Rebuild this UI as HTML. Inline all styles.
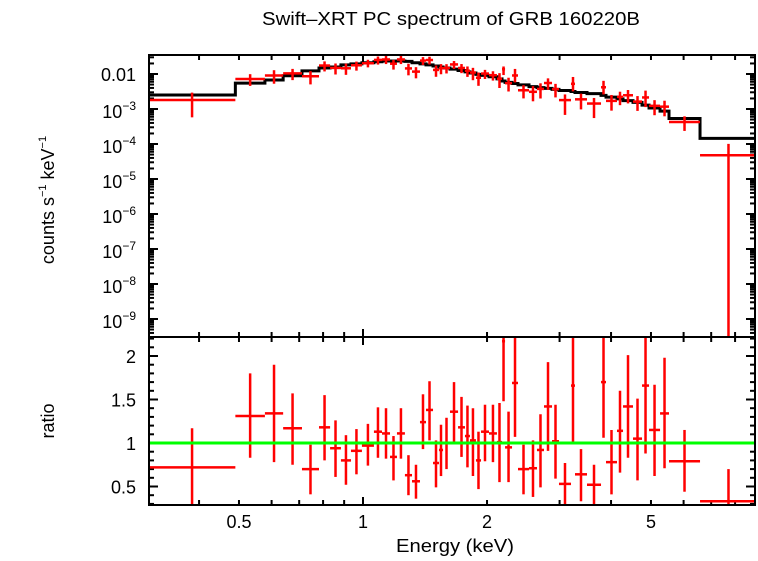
<!DOCTYPE html>
<html><head><meta charset="utf-8"><style>
html,body{margin:0;padding:0;background:#fff}
svg text{font-family:"Liberation Sans",Arial,sans-serif;fill:#000}
</style></head><body>
<svg id="chart" width="758" height="556" viewBox="0 0 758 556" xmlns="http://www.w3.org/2000/svg">
<defs>
<clipPath id="clipTop"><rect x="149" y="55" width="606" height="282"/></clipPath>
<clipPath id="clipBot"><rect x="149" y="337" width="606" height="168"/></clipPath>
</defs>
<text x="451" y="25" font-size="18" text-anchor="middle" textLength="378" lengthAdjust="spacingAndGlyphs">Swift–XRT PC spectrum of GRB 160220B</text>
<text transform="translate(54,200) rotate(-90)" font-size="18" text-anchor="middle">counts s<tspan font-size="11" dy="-8">−1</tspan><tspan dy="8"> keV</tspan><tspan font-size="11" dy="-8">−1</tspan></text>
<text transform="translate(54,421) rotate(-90)" font-size="18" text-anchor="middle">ratio</text>
<text x="455" y="552" font-size="18" text-anchor="middle" textLength="118" lengthAdjust="spacingAndGlyphs">Energy (keV)</text>
<g id="ticks"></g>
<g id="labels"></g>
<g id="topMarks" clip-path="url(#clipTop)"></g>
<g id="botMarks" clip-path="url(#clipBot)"></g>
<rect x="149" y="55" width="606" height="282" fill="none" stroke="#000" stroke-width="2"/>
<rect x="149" y="337" width="606" height="168" fill="none" stroke="#000" stroke-width="2"/>
</svg>
<script>
const binEdges=[0.302,0.49,0.578,0.640,0.711,0.782,0.832,0.884,0.935,0.994,1.063,1.112,1.163,1.209,1.264,1.315,1.375,1.422,1.479,1.529,1.564,1.626,1.701,1.768,1.818,1.880,1.934,2.022,2.114,2.175,2.212,2.300,2.378,2.529,2.644,2.750,2.876,2.990,3.198,3.270,3.497,3.782,3.889,4.135,4.277,4.522,4.756,4.946,5.260,5.530,6.577,9.04];
const modelLog=[-2.60,-2.26,-2.17,-2.05,-1.91,-1.83,-1.80,-1.74,-1.71,-1.68,-1.65,-1.63,-1.63,-1.63,-1.64,-1.68,-1.71,-1.74,-1.77,-1.80,-1.83,-1.86,-1.90,-1.94,-1.97,-2.01,-2.04,-2.08,-2.14,-2.20,-2.24,-2.27,-2.31,-2.36,-2.39,-2.41,-2.44,-2.47,-2.50,-2.53,-2.56,-2.61,-2.66,-2.71,-2.76,-2.81,-2.89,-2.97,-3.06,-3.27,-3.84];
const ratio=[0.72,1.31,1.34,1.17,0.70,1.18,0.94,0.80,0.91,0.97,1.13,1.11,0.84,1.11,0.63,0.56,1.24,1.38,0.77,0.92,1.00,1.36,1.18,1.08,1.03,0.80,1.13,1.11,1.01,2.17,0.95,1.69,0.70,0.71,0.92,1.42,1.02,0.53,1.66,0.64,0.52,1.70,0.78,1.14,1.42,1.05,1.66,1.15,1.34,0.79,0.33];
const ratioHi=[1.17,1.80,1.90,1.57,0.98,1.55,1.26,1.09,1.16,1.22,1.41,1.40,1.08,1.40,0.86,0.75,1.56,1.71,1.03,1.21,1.29,1.70,1.53,1.43,1.40,1.13,1.44,1.44,1.46,2.60,1.36,2.60,0.98,1.03,1.33,1.93,1.44,0.77,2.60,0.93,0.75,2.60,1.15,1.60,2.01,1.51,2.60,1.67,1.98,1.15,0.70];
const ratioLo=[0.23,0.83,0.78,0.75,0.41,0.80,0.61,0.52,0.64,0.74,0.83,0.82,0.57,0.82,0.40,0.36,0.93,1.03,0.49,0.62,0.70,1.01,0.84,0.72,0.62,0.47,0.79,0.78,0.55,1.48,0.55,1.07,0.41,0.38,0.49,0.91,0.59,0.20,1.01,0.33,0.20,1.06,0.41,0.66,0.83,0.57,0.88,0.62,0.71,0.44,0];
const xLabels=[0.5,1,2,5];
const ratioLabels=[0.5,1,1.5,2];
const topLabelExp=[-3,-4,-5,-6,-7,-8,-9];

const NS="http://www.w3.org/2000/svg";
const X=e=>363+412*Math.log10(e);
const YT=lg=>74-35*(lg+2);
const YB=r=>443-87*(r-1);
function mk(tag,attrs,parent){const el=document.createElementNS(NS,tag);for(const k in attrs)el.setAttribute(k,attrs[k]);parent.appendChild(el);return el;}
function line(p,x1,y1,x2,y2,c,w){return mk('line',{x1:x1,y1:y1,x2:x2,y2:y2,stroke:c,'stroke-width':w},p);}

const ticksG=document.getElementById('ticks');
const xt=[0.4,0.5,0.6,0.7,0.8,0.9,1,2,3,4,5,6,7,8];
xt.forEach(e=>{const x=X(e);const L=(e===1)?8:5;
  [[55,55+L],[337,337-L],[337,337+L],[505,505-L]].forEach(([a,b])=>{
    const t=line(ticksG,x,a,x,b,'#000',2);
    
    
  });
});
for(let d=-10;d<=-1;d++){for(let m=1;m<10;m++){const lg=d+Math.log10(m);const y=YT(lg);if(y<55||y>337)continue;const L=m===1?9:5;
  const a=line(ticksG,149,y,149+L,y,'#000',2);
  
  
  const b=line(ticksG,755,y,755-L,y,'#000',2);
  
  }}
for(let k=3;k<=22;k++){const r=k/10;const y=YB(r);if(y<337||y>505)continue;const L=(k%5===0)?9:5;
  const a=line(ticksG,149,y,149+L,y,'#000',2);
  
  
  const b=line(ticksG,755,y,755-L,y,'#000',2);
  
  }

const labelsG=document.getElementById('labels');
xLabels.forEach(e=>{const t=mk('text',{x:X(e),y:528,'font-size':18,'text-anchor':'middle'},labelsG);t.textContent=String(e);
  
  });
ratioLabels.forEach(r=>{const t=mk('text',{x:136,y:YB(r)+7,'font-size':18,'text-anchor':'end'},labelsG);t.textContent=String(r);
  
  });
{const t=mk('text',{x:136,y:YT(-2)+7,'font-size':18,'text-anchor':'end'},labelsG);t.textContent='0.01';
  
  }
topLabelExp.forEach(ex=>{const t=mk('text',{x:136,y:YT(ex)+9,'font-size':18,'text-anchor':'end'},labelsG);
  
  
  const a=mk('tspan',{},t);a.textContent='10';const b=mk('tspan',{'font-size':12,dy:-8},t);b.textContent='−'+(-ex);});

const topG=document.getElementById('topMarks'),botG=document.getElementById('botMarks');
let pathD='';
modelLog.forEach((lg,i)=>{const x1=X(binEdges[i]),x2=X(binEdges[i+1]),y=YT(lg);pathD+=(i===0?'M':'L')+x1+' '+y+' L'+x2+' '+y+' ';});
const mp=mk('path',{d:pathD,fill:'none',stroke:'#000','stroke-width':3},topG);


ratio.forEach((r,i)=>{
  const x1=X(binEdges[i]),x2=X(binEdges[i+1]),xc=(x1+x2)/2;const m=modelLog[i];
  const yv=YT(m+Math.log10(r)),yh=YT(m+Math.log10(ratioHi[i])),yl=ratioLo[i]>0?YT(m+Math.log10(ratioLo[i])):400;
  const g=mk('g',{},topG);
  
  
  line(g,x1,yv,x2,yv,'#f00',2.5);line(g,xc,yh,xc,yl,'#f00',2.5);
  const g2=mk('g',{},botG);
  
  
  line(g2,x1,YB(r),x2,YB(r),'#f00',2.5);line(g2,xc,YB(ratioHi[i]),xc,YB(ratioLo[i]),'#f00',2.5);
});
const ul=line(botG,149,YB(1),755,YB(1),'#0f0',3);


</script>
</body></html>
